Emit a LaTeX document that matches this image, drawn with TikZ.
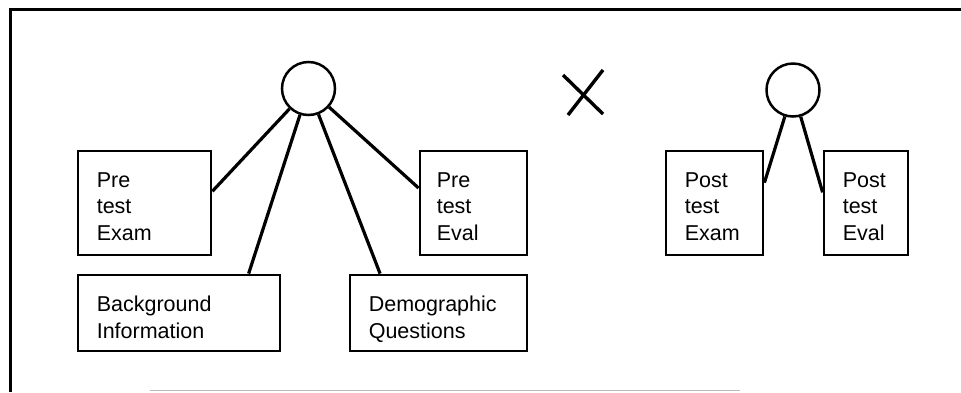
\documentclass[tikz,border=0pt]{standalone}
\usepackage{fontspec}
\setmainfont{Liberation Sans}
\usetikzlibrary{calc}
\begin{document}
\begin{tikzpicture}[x=1pt,y=-1pt,
  box/.style={draw, line width=2.8pt, rectangle, inner sep=0pt},
  hub/.style={draw, circle, line width=2.5pt, minimum size=53pt, inner sep=0pt},
  lbl/.style={anchor=north west, inner sep=0pt, align=left, font=\fontsize{21.5}{26.5}\selectfont},
  link/.style={line width=3.2pt},
  border/.style={line width=3pt},
  cross/.style={line width=3.4pt}]
\useasboundingbox (0,0) rectangle (961,392);

% outer frame (left and top sides) and faint rule at the foot
\coordinate (fbl) at (10,392);
\coordinate (ftl) at (10,9);
\coordinate (ftr) at (961,9);
\draw[border] (fbl) -- (ftl) -- (ftr);
\coordinate (rl) at (150,390.5);
\coordinate (rr) at (740,390.5);
\draw[gray!55, line width=1.2pt] (rl) -- (rr);

% pretest group
\node[hub] (c1) at (308.5,88.5) {};
\node[box, minimum width=133pt, minimum height=104pt] (pexam) at (144.5,203) {};
\node[box, minimum width=107pt, minimum height=104pt] (peval) at (473.5,203) {};
\node[box, minimum width=202pt, minimum height=76pt] (bg) at (179,313) {};
\node[box, minimum width=177pt, minimum height=76pt] (demo) at (438.5,313) {};

\node[lbl] (tpexam) at ([shift={(20,22.5)}]pexam.north west) {Pre\\test\\Exam};
\node[lbl] (tpeval) at ([shift={(18,22.5)}]peval.north west) {Pre\\test\\Eval};
\node[lbl] (tbg) at ([shift={(20,22.5)}]bg.north west) {Background\\Information};
\node[lbl] (tdemo) at ([shift={(20,22.5)}]demo.north west) {Demographic\\Questions};

\draw[link] ($(pexam.north east)!0.39!(pexam.south east)$) -- (c1);
\draw[link] ($(bg.north west)!0.84!(bg.north east)$) -- (c1);
\draw[link] ($(demo.north west)!0.175!(demo.north east)$) -- (c1);
\draw[link] ($(peval.north west)!0.36!(peval.south west)$) -- (c1);

% crossing sign
\coordinate (xa) at (563,75);
\coordinate (xb) at (603,114);
\coordinate (xc) at (603,70);
\coordinate (xd) at (568,115);
\draw[cross] (xa) -- (xb);
\draw[cross] (xc) -- (xd);

% posttest group
\node[hub] (c2) at (793,90) {};
\node[box, minimum width=97pt, minimum height=104pt] (qexam) at (714.5,203) {};
\node[box, minimum width=84pt, minimum height=104pt] (qeval) at (866,203) {};

\node[lbl] (tqexam) at ([shift={(20,22.5)}]qexam.north west) {Post\\test\\Exam};
\node[lbl] (tqeval) at ([shift={(20,22.5)}]qeval.north west) {Post\\test\\Eval};

\draw[link] ($(qexam.north east)!0.31!(qexam.south east)$) -- (c2);
\draw[link] ($(qeval.north west)!0.40!(qeval.south west)$) -- (c2);
\end{tikzpicture}
\end{document}
